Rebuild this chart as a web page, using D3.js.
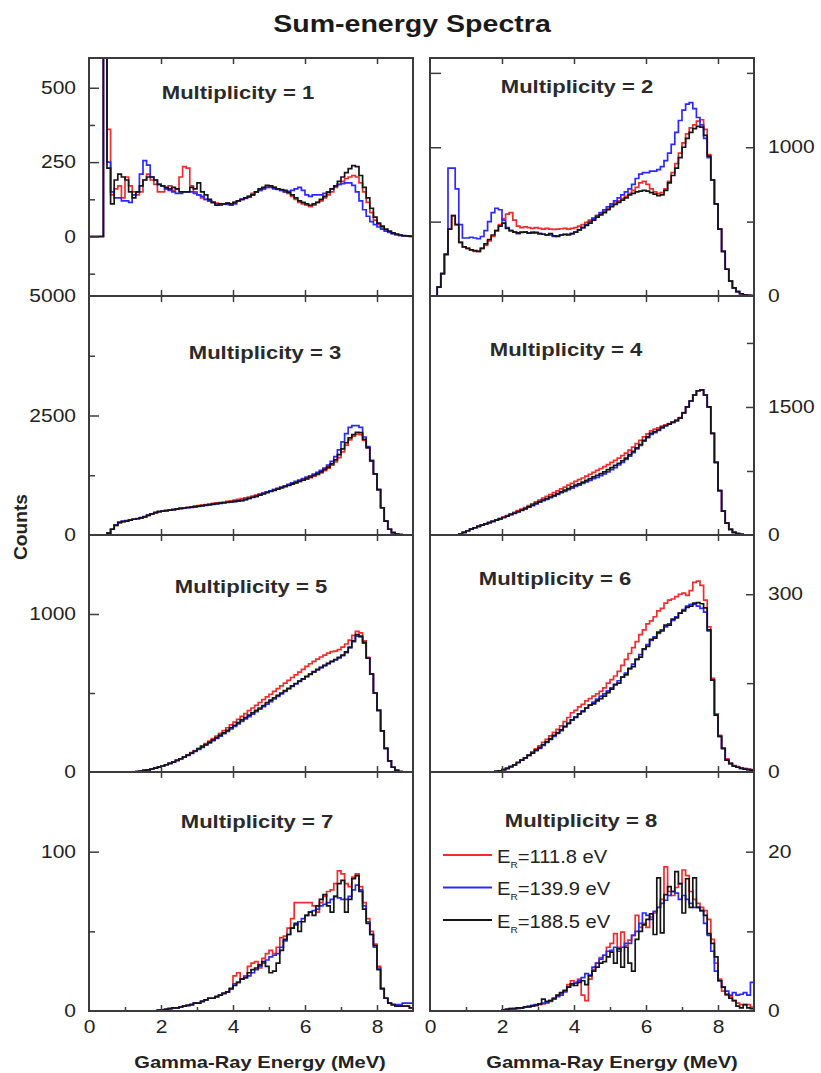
<!DOCTYPE html>
<html>
<head>
<meta charset="utf-8">
<script src="https://cdn.jsdelivr.net/npm/d3@7"></script>
<style>
  body { margin: 0; background: #fff; }
  svg { display: block; }
</style>
</head>
<body>
<div id="chart"></div>
<script>
// Sum-energy spectra, 0.1 MeV bins from 0 to 9 MeV (counts per bin)
const BIN = 0.1
const E_MAX = 9
const xTickValues = [0, 2, 4, 6, 8]
const xMinorValues = [1, 3, 5, 7]
const resonances = ["111.8", "139.9", "188.5"]   // E_R in eV: red, blue, black

const m1Red = [
  0, 0, 0, 0, 800, 360, 140, 160, 170, 130,
  200, 170, 150, 140, 150, 190, 210, 190, 175, 150,
  150, 160, 170, 155, 160, 200, 235, 230, 170, 150,
  140, 130, 125, 120, 115, 112, 108, 110, 112, 110,
  115, 120, 125, 130, 135, 145, 150, 155, 160, 165,
  170, 165, 160, 155, 150, 145, 135, 125, 115, 110,
  105, 100, 105, 115, 120, 130, 140, 150, 165, 175,
  185, 195, 200, 205, 200, 180, 150, 115, 80, 55,
  40, 30, 22, 15, 10, 6, 4, 2, 1, 0
]
const m1Blue = [
  0, 0, 0, 0, 900, 250, 150, 130, 130, 120,
  120, 115, 140, 150, 210, 255, 240, 200, 190, 175,
  170, 160, 155, 150, 145, 145, 150, 150, 150, 145,
  140, 135, 125, 120, 115, 110, 105, 110, 108, 105,
  110, 120, 125, 128, 132, 140, 150, 155, 160, 165,
  165, 160, 158, 155, 150, 152, 155, 160, 165, 155,
  140, 135, 140, 140, 140, 145, 150, 160, 170, 175,
  178, 180, 180, 172, 150, 120, 90, 68, 50, 40,
  32, 25, 18, 14, 10, 6, 4, 2, 1, 0
]
const m1Black = [
  0, 0, 0, 0, 800, 230, 110, 190, 210, 200,
  190, 150, 130, 150, 170, 190, 200, 200, 190, 175,
  170, 165, 160, 165, 160, 150, 150, 150, 165, 160,
  180, 150, 140, 125, 115, 105, 110, 110, 112, 110,
  115, 120, 125, 130, 135, 140, 150, 160, 165, 172,
  170, 165, 160, 158, 155, 148, 140, 130, 120, 115,
  110, 105, 110, 115, 125, 135, 148, 160, 170, 185,
  200, 215, 228, 238, 235, 205, 165, 130, 95, 65,
  45, 35, 25, 18, 12, 8, 5, 3, 2, 1
]

const m2Red = [
  0, 0, 60, 150, 280, 450, 540, 480, 360, 330,
  320, 310, 300, 300, 320, 340, 370, 400, 440, 480,
  520, 550, 560, 510, 470, 460, 465, 460, 455, 460,
  455, 450, 455, 450, 448, 450, 452, 455, 450, 455,
  460, 470, 480, 495, 510, 525, 540, 555, 570, 590,
  610, 625, 640, 655, 670, 690, 710, 730, 760, 770,
  750, 720, 700, 690, 695, 720, 770, 830, 890, 960,
  1030, 1090, 1130, 1150, 1175, 1185, 1120, 950, 780, 620,
  450, 300, 180, 100, 55, 30, 15, 8, 4, 2
]
const m2Blue = [
  0, 0, 60, 150, 280, 860, 860, 720, 480, 390,
  390, 395, 390, 385, 400, 440, 500, 560, 590, 580,
  510, 460, 440, 430, 420, 430, 430, 425, 430, 425,
  420, 415, 410, 410, 400, 405, 410, 412, 415, 420,
  430, 445, 460, 480, 500, 520, 540, 560, 580, 600,
  620, 640, 660, 680, 700, 720, 750, 790, 820, 830,
  830, 840, 840, 850, 870, 910, 960, 1020, 1100, 1180,
  1250, 1290, 1300, 1260, 1200, 1150, 1060, 930, 780, 620,
  450, 300, 180, 100, 55, 30, 15, 8, 4, 2
]
const m2Black = [
  0, 0, 60, 150, 280, 450, 540, 480, 360, 330,
  320, 310, 305, 300, 320, 350, 380, 410, 440, 470,
  490, 455, 440, 430, 425, 428, 430, 422, 425, 428,
  420, 415, 410, 420, 405, 400, 410, 415, 410, 420,
  430, 445, 460, 475, 490, 510, 530, 545, 560, 580,
  600, 615, 630, 645, 660, 680, 690, 700, 705, 710,
  705, 695, 685, 675, 680, 710, 760, 810, 860, 930,
  1000, 1060, 1100, 1125, 1140, 1135, 1080, 940, 780, 620,
  450, 300, 180, 100, 55, 30, 15, 8, 4, 2
]

const m3Red = [
  0, 0, 0, 0, 0, 40, 120, 200, 260, 280,
  290, 310, 330, 340, 360, 380, 410, 440, 470, 490,
  500, 510, 520, 530, 545, 560, 570, 580, 590, 605,
  615, 625, 635, 645, 660, 670, 680, 690, 705, 715,
  730, 745, 760, 775, 795, 815, 835, 860, 880, 905,
  925, 950, 970, 995, 1020, 1045, 1070, 1095, 1120, 1145,
  1170, 1200, 1230, 1265, 1300, 1345, 1400, 1460, 1530, 1620,
  1740, 1880, 1990, 2070, 2110, 2100, 1980, 1820, 1550, 1280,
  950, 570, 290, 120, 50, 20, 8, 3, 1, 0
]
const m3Blue = [
  0, 0, 0, 0, 0, 40, 120, 210, 270, 290,
  300, 310, 330, 345, 365, 385, 415, 445, 470, 490,
  500, 510, 520, 530, 540, 550, 560, 570, 580, 590,
  600, 610, 620, 630, 640, 650, 660, 670, 680, 690,
  700, 710, 725, 745, 765, 785, 810, 840, 870, 900,
  925, 950, 975, 1000, 1030, 1060, 1090, 1120, 1150, 1180,
  1210, 1240, 1275, 1310, 1350, 1400, 1460, 1540, 1640, 1780,
  1950, 2120, 2250, 2290, 2290, 2250, 2050, 1850, 1560, 1280,
  950, 570, 290, 120, 50, 20, 8, 3, 1, 0
]
const m3Black = [
  0, 0, 0, 0, 0, 40, 120, 200, 260, 280,
  290, 310, 330, 340, 360, 380, 410, 440, 470, 490,
  500, 510, 520, 530, 545, 555, 565, 575, 585, 595,
  605, 615, 625, 635, 645, 655, 665, 675, 685, 695,
  705, 712, 720, 740, 765, 790, 810, 835, 860, 885,
  910, 935, 960, 985, 1010, 1040, 1065, 1090, 1120, 1150,
  1180, 1210, 1245, 1280, 1320, 1370, 1420, 1490, 1570, 1680,
  1800, 1930, 2030, 2100, 2150, 2140, 2000, 1830, 1550, 1280,
  950, 570, 290, 120, 50, 20, 8, 3, 1, 0
]

const m4Red = [
  0, 0, 0, 0, 0, 0, 0, 0, 10, 30,
  50, 70, 85, 100, 115, 130, 145, 160, 178, 195,
  210, 228, 248, 265, 285, 302, 322, 344, 366, 388,
  410, 432, 452, 474, 496, 518, 540, 562, 584, 606,
  628, 648, 668, 690, 712, 734, 756, 778, 800, 825,
  850, 875, 900, 930, 960, 995, 1030, 1070, 1110, 1150,
  1185, 1220, 1240, 1255, 1275, 1290, 1305, 1325, 1345, 1375,
  1435, 1500, 1570, 1640, 1690, 1700, 1640, 1500, 1190, 850,
  520, 280, 140, 65, 30, 15, 7, 3, 1, 0
]
const m4Blue = [
  0, 0, 0, 0, 0, 0, 0, 0, 10, 30,
  50, 70, 85, 100, 115, 130, 145, 160, 175, 190,
  205, 220, 238, 253, 272, 288, 305, 325, 345, 365,
  385, 402, 418, 438, 455, 475, 495, 512, 530, 550,
  570, 585, 605, 622, 640, 660, 675, 695, 715, 740,
  765, 790, 820, 850, 885, 925, 965, 1010, 1050, 1100,
  1140, 1180, 1200, 1225, 1255, 1280, 1300, 1320, 1340, 1370,
  1430, 1500, 1570, 1640, 1690, 1700, 1640, 1500, 1190, 850,
  520, 280, 140, 65, 30, 15, 7, 3, 1, 0
]
const m4Black = [
  0, 0, 0, 0, 0, 0, 0, 0, 10, 30,
  50, 70, 85, 100, 115, 130, 145, 160, 175, 190,
  205, 220, 240, 255, 275, 290, 310, 330, 350, 370,
  390, 410, 425, 445, 465, 485, 505, 525, 545, 565,
  585, 600, 620, 640, 660, 680, 700, 720, 740, 765,
  790, 815, 840, 870, 900, 940, 980, 1020, 1060, 1110,
  1150, 1190, 1210, 1230, 1260, 1280, 1300, 1320, 1340, 1370,
  1430, 1500, 1570, 1640, 1690, 1700, 1640, 1500, 1190, 850,
  520, 280, 140, 65, 30, 15, 7, 3, 1, 0
]

const m5Red = [
  0, 0, 0, 0, 0, 0, 0, 0, 0, 0,
  0, 0, 0, 3, 6, 10, 14, 19, 25, 31,
  38, 46, 54, 63, 73, 84, 96, 109, 122, 136,
  150, 165, 180, 196, 212, 228, 245, 262, 280, 298,
  316, 334, 352, 370, 388, 405, 422, 440, 458, 475,
  492, 510, 528, 545, 562, 580, 598, 615, 632, 650,
  668, 685, 700, 715, 728, 740, 752, 762, 765, 775,
  790, 810, 835, 865, 890, 880, 830, 725, 620, 500,
  390, 260, 150, 70, 30, 10, 3, 1, 0, 0
]
const m5Blue = [
  0, 0, 0, 0, 0, 0, 0, 0, 0, 0,
  0, 0, 0, 3, 6, 10, 14, 19, 25, 31,
  38, 46, 54, 63, 73, 83, 94, 105, 117, 130,
  143, 156, 170, 184, 198, 212, 227, 242, 257, 272,
  288, 304, 320, 336, 351, 366, 382, 398, 414, 430,
  446, 462, 478, 494, 510, 526, 542, 558, 573, 588,
  603, 618, 632, 646, 660, 673, 686, 698, 710, 722,
  736, 755, 785, 825, 860, 855, 815, 720, 620, 500,
  390, 260, 150, 70, 30, 10, 3, 1, 0, 0
]
const m5Black = [
  0, 0, 0, 0, 0, 0, 0, 0, 0, 0,
  0, 0, 0, 3, 6, 10, 14, 19, 25, 31,
  38, 46, 54, 63, 73, 84, 95, 107, 120, 133,
  147, 160, 174, 188, 203, 218, 233, 248, 264, 280,
  296, 312, 330, 345, 360, 375, 390, 405, 420, 440,
  455, 470, 485, 500, 515, 530, 545, 560, 575, 590,
  605, 620, 635, 650, 662, 675, 688, 700, 712, 725,
  740, 760, 790, 830, 870, 860, 820, 720, 620, 500,
  390, 260, 150, 70, 30, 10, 3, 1, 0, 0
]

const m6Red = [
  0, 0, 0, 0, 0, 0, 0, 0, 0, 0,
  0, 0, 0, 0, 0, 0, 0, 0, 1, 2,
  4, 6, 9, 12, 16, 20, 24, 29, 34, 39,
  44, 50, 55, 61, 67, 72, 78, 85, 92, 100,
  104, 110, 114, 120, 124, 128, 132, 136, 142, 150,
  156, 162, 170, 180, 190, 200, 210, 220, 232, 240,
  250, 255, 262, 272, 276, 285, 290, 292, 296, 300,
  302, 298, 306, 320, 322, 315, 290, 245, 158, 98,
  62, 40, 22, 15, 11, 9, 7, 6, 5, 4
]
const m6Blue = [
  0, 0, 0, 0, 0, 0, 0, 0, 0, 0,
  0, 0, 0, 0, 0, 0, 0, 0, 1, 2,
  4, 6, 9, 12, 16, 20, 24, 28, 32, 36,
  40, 45, 50, 55, 60, 65, 70, 76, 82, 88,
  93, 98, 103, 108, 113, 118, 123, 128, 132, 137,
  142, 147, 154, 160, 167, 174, 182, 190, 198, 207,
  215, 222, 228, 234, 240, 245, 250, 256, 262, 268,
  274, 280, 283, 283, 280, 276, 270, 238, 155, 96,
  60, 40, 20, 14, 10, 8, 6, 5, 4, 3
]
const m6Black = [
  0, 0, 0, 0, 0, 0, 0, 0, 0, 0,
  0, 0, 0, 0, 0, 0, 0, 0, 1, 2,
  4, 6, 9, 12, 16, 20, 24, 28, 32, 37,
  41, 46, 51, 56, 62, 66, 71, 77, 82, 88,
  92, 98, 102, 108, 113, 115, 120, 124, 128, 134,
  140, 148, 150, 160, 164, 175, 178, 190, 194, 208,
  212, 224, 226, 236, 238, 248, 248, 258, 260, 268,
  272, 278, 280, 285, 286, 284, 277, 240, 155, 96,
  60, 40, 20, 14, 10, 8, 6, 5, 4, 3
]

const m7Red = [
  0, 0, 0, 0, 0, 0, 0, 0, 0, 0,
  0, 0, 0, 0, 0, 0, 0, 0, 0, 0.5,
  0.8, 1, 1.5, 2, 2, 2.5, 3, 3.5, 4, 5,
  5, 6, 7, 8, 8, 9, 10, 11, 12, 14,
  22, 24, 20, 22, 28, 30, 31, 27, 33, 36,
  38, 36, 40, 46, 47, 52, 58, 68, 68, 68,
  68, 68, 66, 62, 68, 72, 75, 76, 80, 88,
  86, 80, 78, 84, 86, 78, 68, 58, 50, 42,
  28, 14, 8, 5, 4, 3, 3, 3, 3, 2
]
const m7Blue = [
  0, 0, 0, 0, 0, 0, 0, 0, 0, 0,
  0, 0, 0, 0, 0, 0, 0, 0, 0, 0.5,
  0.8, 1, 1.5, 2, 2, 2.5, 3, 3.5, 4, 5,
  5, 6, 7, 8, 8, 9, 10, 11, 12, 14,
  17, 18, 20, 21, 22, 24, 26, 28, 30, 32,
  34, 35, 36, 40, 44, 48, 52, 54, 56, 58,
  60, 62, 63, 64, 66, 67, 68, 70, 72, 71,
  70, 70, 72, 76, 79, 76, 66, 56, 48, 40,
  27, 14, 8, 5, 4, 4, 4, 5, 5, 5
]
const m7Black = [
  0, 0, 0, 0, 0, 0, 0, 0, 0, 0,
  0, 0, 0, 0, 0, 0, 0, 0, 0, 0.5,
  0.8, 1, 1.5, 2, 2, 2.5, 3, 3.5, 4, 5,
  5, 6, 7, 8, 8, 9, 10, 11, 12, 14,
  16, 18, 20, 21, 24, 26, 27, 29, 31, 28,
  24, 25, 30, 38, 45, 48, 52, 55, 50, 56,
  60, 62, 60, 66, 70, 73, 66, 62, 72, 80,
  82, 62, 70, 83, 85, 75, 64, 55, 48, 41,
  26, 14, 8, 5, 4, 3, 3, 3, 3, 2
]

const m8Red = [
  0, 0, 0, 0, 0, 0, 0, 0, 0, 0,
  0, 0, 0, 0, 0, 0, 0, 0, 0, 0,
  0.1, 0.2, 0.2, 0.3, 0.3, 0.4, 0.5, 0.5, 0.6, 0.7,
  0.8, 0.9, 1.0, 1.2, 1.6, 1.9, 2.2, 2.5, 3.3, 3.8,
  3.6, 4.0, 2.0, 1.3, 4.0, 5.2, 6.0, 6.7, 7.0, 8.0,
  8.5, 9.7, 8.0, 9.9, 8.2, 8.9, 9.5, 12.0, 10.5, 11.0,
  10.5, 11.8, 12.3, 13.0, 14.0, 18.1, 15.0, 14.5, 15.5, 16.0,
  17.7, 17.0, 15.0, 14.0, 13.5, 13.0, 12.6, 11.5, 9.0, 6.0,
  4.0, 2.5, 2.0, 1.8, 1.3, 1.0, 0.8, 0.8, 0.8, 0.5
]
const m8Blue = [
  0, 0, 0, 0, 0, 0, 0, 0, 0, 0,
  0, 0, 0, 0, 0, 0, 0, 0, 0, 0,
  0.1, 0.2, 0.3, 0.3, 0.4, 0.4, 0.5, 0.6, 0.7, 0.8,
  0.9, 1.0, 1.1, 1.3, 1.5, 1.8, 2.0, 2.4, 3.0, 3.2,
  3.5, 3.8, 4.2, 4.7, 4.5, 5.5, 6.0, 6.5, 7.0, 7.5,
  7.6, 8.0, 7.5, 8.0, 8.5, 8.5, 9.5, 10.0, 11.0, 12.3,
  12.0, 11.5, 12.5, 13.0, 13.5, 13.9, 14.5, 15.0, 14.8, 14.0,
  14.5, 14.0, 13.5, 13.0, 13.0, 12.6, 11.0, 9.5, 7.5, 5.0,
  3.8, 3.0, 2.5, 2.0, 2.3, 2.0, 2.1, 2.3, 2.0, 3.6
]
const m8Black = [
  0, 0, 0, 0, 0, 0, 0, 0, 0, 0,
  0, 0, 0, 0, 0, 0, 0, 0, 0, 0,
  0.1, 0.2, 0.3, 0.3, 0.4, 0.4, 0.5, 0.5, 0.6, 0.7,
  0.9, 1.5, 1.2, 1.3, 1.6, 2.0, 2.3, 2.6, 3.0, 3.4,
  3.2, 3.6, 3.8, 3.3, 4.4, 5.0, 5.5, 6.0, 6.2, 6.8,
  7.4, 6.0, 7.8, 5.5, 8.0, 6.0, 5.0, 9.0, 10.0, 10.8,
  11.5, 12.2, 9.6, 16.7, 9.8, 14.6, 15.6, 15.0, 17.5, 16.0,
  12.3, 16.6, 13.0, 16.7, 13.0, 12.6, 12.0, 9.7, 8.5, 6.8,
  3.8, 3.0, 2.1, 1.6, 1.3, 0.6, 0.4, 0.8, 0.4, 0.3
]

// panel setup: y range, labelled values and tick values for each multiplicity
const panels = [
  { mult: 1, col: 0, row: 0, series: [m1Red, m1Blue, m1Black], yDomain: [-200, 600],
    labels: [0, 250, 500], major: [0, 250, 500], minor: [-125, 125, 375], name: [238, 99] },
  { mult: 2, col: 1, row: 0, series: [m2Red, m2Blue, m2Black], yDomain: [0, 1600],
    labels: [0, 1000], major: [1000], minor: [500, 1500], inner: [500, 1000, 1500], name: [577, 93] },
  { mult: 3, col: 0, row: 1, series: [m3Red, m3Blue, m3Black], yDomain: [0, 5000],
    labels: [0, 2500, 5000], major: [2500], minor: [1250, 3750], name: [265, 359] },
  { mult: 4, col: 1, row: 1, series: [m4Red, m4Blue, m4Black], yDomain: [0, 2800],
    labels: [0, 1500], major: [1500], minor: [750, 2250], name: [566, 356] },
  { mult: 5, col: 0, row: 2, series: [m5Red, m5Blue, m5Black], yDomain: [0, 1500],
    labels: [0, 1000], major: [1000], minor: [500], name: [251, 593] },
  { mult: 6, col: 1, row: 2, series: [m6Red, m6Blue, m6Black], yDomain: [0, 400],
    labels: [0, 300], major: [300], minor: [150], name: [555, 585] },
  { mult: 7, col: 0, row: 3, series: [m7Red, m7Blue, m7Black], yDomain: [0, 150],
    labels: [0, 100], major: [100], minor: [50], name: [257, 828] },
  { mult: 8, col: 1, row: 3, series: [m8Red, m8Blue, m8Black], yDomain: [0, 30],
    labels: [0, 20], major: [20], minor: [10], name: [581, 827] }
]

const WIDTH = 821
const HEIGHT = 1073
const COL_X = [89, 430]
const PLOT_W = 324
const ROW_Y = [58, 296, 535, 772, 1011]
const FONT = "'Liberation Sans', Arial, Helvetica, sans-serif"
const SX = 1.2                      // the picture is stretched sideways a little
const INK = "#3c3c3c"
const COLORS = ["#f22c2c", "#2a2aff", "#151515"]
const plain = d3.format("d")

const svg = d3.select("#chart").append("svg")
  .attr("width", WIDTH)
  .attr("height", HEIGHT)
  .attr("font-family", FONT)

// Title
svg.append("text")
  .attr("transform", `translate(412,32) scale(1.19,1)`)
  .attr("text-anchor", "middle")
  .attr("font-size", 24)
  .attr("font-weight", "bold")
  .attr("fill", "#1a1a1a")
  .text("Sum-energy Spectra")

function tickAxis(axis, tx, ty) {
  const a = svg.append("g")
    .attr("transform", `translate(${tx},${ty})`)
    .call(axis)
  a.select(".domain").remove()
  a.selectAll("line").attr("stroke", INK).attr("stroke-width", 1.5)
  return a
}

function labelAxis(axis, tx, ty, size) {
  const a = svg.append("g")
    .attr("transform", `translate(${tx},${ty})`)
    .call(axis.tickFormat(plain))
  a.select(".domain").remove()
  a.selectAll("line").remove()
  a.attr("font-size", size).attr("font-family", FONT)
  a.selectAll("text")
    .attr("fill", "#222")
    .attr("x", function() { return (+d3.select(this).attr("x") || 0) / SX })
    .attr("transform", `scale(${SX},1)`)
  return a
}

panels.forEach(p => {
  const x0 = COL_X[p.col]
  const y0 = ROW_Y[p.row]
  const y1 = ROW_Y[p.row + 1]
  const x = d3.scaleLinear().domain([0, E_MAX]).range([x0, x0 + PLOT_W])
  const y = d3.scaleLinear().domain(p.yDomain).range([y1, y0])

  const clipId = "clip" + p.mult
  svg.append("clipPath").attr("id", clipId)
    .append("rect")
    .attr("x", x0).attr("y", y0)
    .attr("width", PLOT_W).attr("height", y1 - y0)

  const line = d3.line()
    .x(d => x(d[0]))
    .y(d => y(d[1]))
    .curve(d3.curveStepAfter)

  const g = svg.append("g").attr("clip-path", `url(#${clipId})`)
  p.series.forEach((vals, k) => {
    const pts = vals.map((v, i) => [i * BIN, v])
    pts.push([E_MAX, vals[vals.length - 1]])
    g.append("path")
      .attr("d", line(pts))
      .attr("fill", "none")
      .attr("stroke", COLORS[k])
      .attr("stroke-width", 1.7)
  })

  // x ticks on top and bottom edges, pointing inward
  tickAxis(d3.axisTop(x).tickValues([2, 4, 6, 8]).tickSize(-6).tickFormat(""), 0, y0)
  tickAxis(d3.axisBottom(x).tickValues([2, 4, 6, 8]).tickSize(-6).tickFormat(""), 0, y1)
  if (p.row === 3) {
    tickAxis(d3.axisBottom(x).tickValues(xMinorValues).tickSize(-4).tickFormat(""), 0, y1)
    labelAxis(d3.axisBottom(x).tickValues(xTickValues).tickSize(0).tickPadding(10), 0, y1, 17.5)
    svg.append("text")
      .attr("transform", `translate(${x0 + (p.col ? 182 : 171)},1068) scale(1.22,1)`)
      .attr("text-anchor", "middle")
      .attr("font-size", 16.5)
      .attr("font-weight", "bold")
      .attr("fill", "#222")
      .text("Gamma-Ray Energy (MeV)")
  }

  // y ticks and labels
  if (p.col === 0) {
    tickAxis(d3.axisLeft(y).tickValues(p.major).tickSize(-10).tickFormat(""), x0, 0)
    tickAxis(d3.axisLeft(y).tickValues(p.minor).tickSize(-6).tickFormat(""), x0, 0)
    labelAxis(d3.axisLeft(y).tickValues(p.labels).tickSize(0).tickPadding(13), x0, 0, 17.5)
  } else {
    const xr = x0 + PLOT_W
    tickAxis(d3.axisRight(y).tickValues(p.major).tickSize(-8).tickFormat(""), xr, 0)
    tickAxis(d3.axisRight(y).tickValues(p.minor).tickSize(-7).tickFormat(""), xr, 0)
    if (p.inner) {
      tickAxis(d3.axisLeft(y).tickValues(p.inner).tickSize(-11).tickFormat(""), x0, 0)
    }
    labelAxis(d3.axisRight(y).tickValues(p.labels).tickSize(0).tickPadding(14), xr, 0, 17.5)
  }

  // frame
  svg.append("rect")
    .attr("x", x0).attr("y", y0)
    .attr("width", PLOT_W).attr("height", y1 - y0)
    .attr("fill", "none")
    .attr("stroke", INK)
    .attr("stroke-width", 2)

  svg.append("text")
    .attr("transform", `translate(${p.name[0]},${p.name[1]}) scale(1.16,1)`)
    .attr("text-anchor", "middle")
    .attr("font-size", 19)
    .attr("font-weight", "bold")
    .attr("fill", "#2a2a2a")
    .text("Multiplicity = " + p.mult)

  // legend sits in the last panel
  if (p.mult === 8) {
    resonances.forEach((er, k) => {
      const ly = 855 + k * 32.5
      svg.append("line")
        .attr("x1", 443).attr("x2", 492)
        .attr("y1", ly).attr("y2", ly)
        .attr("stroke", COLORS[k])
        .attr("stroke-width", 1.8)
      const t = svg.append("text")
        .attr("transform", `translate(497,${ly + 7.5}) scale(1.12,1)`)
        .attr("font-size", 18)
        .attr("fill", "#222")
      t.append("tspan").text("E")
      t.append("tspan").attr("font-size", 9).attr("dy", 5).text("R")
      t.append("tspan").attr("dy", -5).text("=" + er + " eV")
    })
  }
})

// shared y label
svg.append("text")
  .attr("transform", `translate(27,527) scale(${SX},1) rotate(-90)`)
  .attr("text-anchor", "middle")
  .attr("font-size", 16)
  .attr("font-weight", "bold")
  .attr("fill", "#222")
  .attr("textLength", 66)
  .attr("lengthAdjust", "spacingAndGlyphs")
  .text("Counts")
</script>
</body>
</html>
